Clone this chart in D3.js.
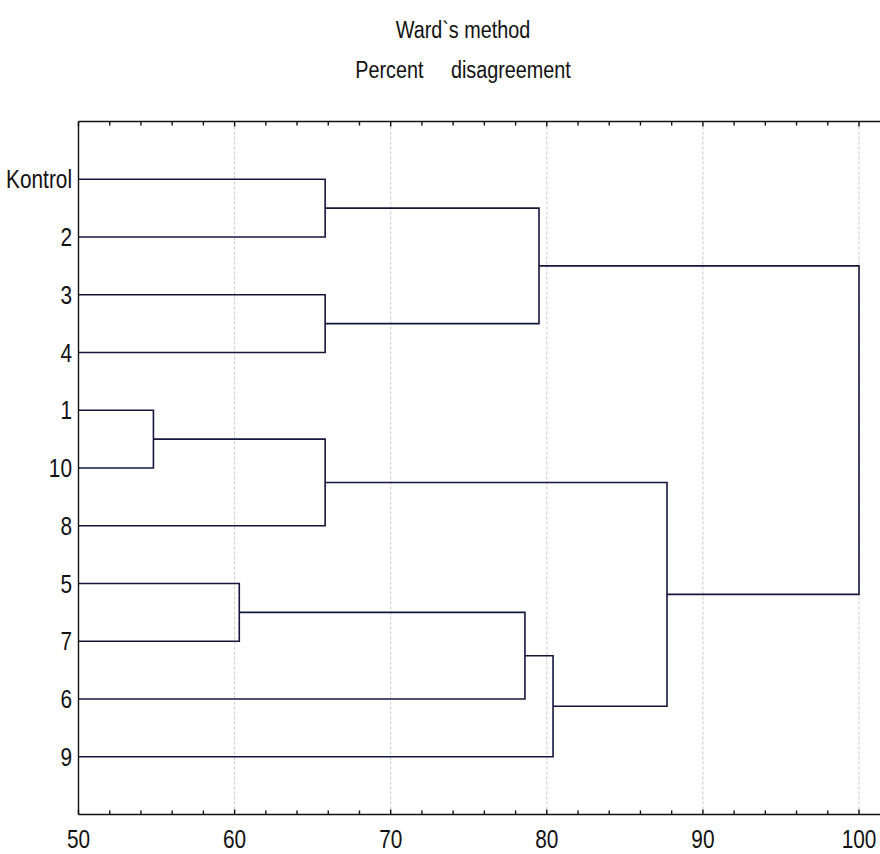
<!DOCTYPE html>
<html>
<head>
<meta charset="utf-8">
<script src="https://cdn.jsdelivr.net/npm/d3@7"></script>
<style>
html,body{margin:0;padding:0;background:#fff;}
text{font-family:"Liberation Sans",Arial,sans-serif;fill:#111;}
</style>
</head>
<body>
<svg id="chart" width="880" height="854"></svg>
<script>
const titleLines = ["Ward`s method", "Percent     disagreement"];
const leaves = ["Kontrol","2","3","4","1","10","8","5","7","6","9"];
// merges: name, left child, right child, linkage distance
const mergeNames = ["A","B","C","D","E","F","G","H","I","J"];
const mergeLeft  = ["1","5","Kontrol","3","A","B","F","C","E","H"];
const mergeRight = ["10","7","2","4","8","6","9","D","G","I"];
const mergeDist  = [54.8,60.3,65.8,65.8,65.8,78.6,80.4,79.5,87.7,100];
const xTicks = [50,60,70,80,90,100];

const svg = d3.select("#chart");
const x = d3.scaleLinear().domain([50,100]).range([78.5,859]);
const y = d3.scaleLinear().domain([0,12]).range([121.5,814.5]);
const lineColor = "#16163f";

// gridlines
svg.append("g").selectAll("line").data(xTicks.slice(1)).join("line")
  .attr("x1",d=>x(d)).attr("x2",d=>x(d)).attr("y1",y(0)).attr("y2",y(12))
  .attr("stroke","#c8c8c8").attr("stroke-width",1).attr("stroke-dasharray","3,2");

// dendrogram
const nodes = {};
leaves.forEach((l,i)=>{ nodes[l] = {x:50, y:i+1}; });
const g = svg.append("g").attr("fill","none").attr("stroke",lineColor).attr("stroke-width",1.6);
mergeNames.forEach((n,i)=>{
  const a = nodes[mergeLeft[i]], b = nodes[mergeRight[i]], h = mergeDist[i];
  const p = d3.path();
  p.moveTo(x(a.x), y(a.y)); p.lineTo(x(h), y(a.y)); p.lineTo(x(h), y(b.y)); p.lineTo(x(b.x), y(b.y));
  g.append("path").attr("d", p.toString());
  nodes[n] = {x:h, y:(a.y+b.y)/2};
});

// axes frame
const ax = svg.append("g").attr("stroke","#111").attr("stroke-width",1.4);
ax.append("line").attr("x1",x(50)).attr("x2",880).attr("y1",y(0)).attr("y2",y(0));
ax.append("line").attr("x1",x(50)).attr("x2",880).attr("y1",y(12)).attr("y2",y(12));
ax.append("line").attr("x1",x(50)).attr("x2",x(50)).attr("y1",y(0)).attr("y2",y(12));

const minor = d3.range(50,101,2);
ax.selectAll(".tb").data(minor).join("line")
  .attr("x1",d=>x(d)).attr("x2",d=>x(d)).attr("y1",y(12)).attr("y2",d=>y(12)-(d%10===0?5:4));
ax.selectAll(".tt").data(minor).join("line")
  .attr("x1",d=>x(d)).attr("x2",d=>x(d)).attr("y1",y(0)).attr("y2",d=>y(0)+(d%10===0?5:4));

// tick labels
svg.append("g").selectAll("text").data(xTicks).join("text")
  .attr("transform",d=>`translate(${x(d)},848) scale(0.8,1.02)`)
  .attr("text-anchor","middle").attr("font-size",26).text(d=>d);

// leaf labels
svg.append("g").selectAll("text").data(leaves).join("text")
  .attr("transform",(d,i)=>`translate(72,${y(i+1)+9}) scale(0.8,1.02)`)
  .attr("text-anchor","end").attr("font-size",26).text(d=>d);

// titles
svg.append("g").selectAll("text").data(titleLines).join("text")
  .attr("transform",(d,i)=>`translate(463,${i===0?38:78}) scale(0.9,1.05)`)
  .attr("text-anchor","middle").attr("font-size",22)
  .style("white-space","pre").text(d=>d);
</script>
</body>
</html>
